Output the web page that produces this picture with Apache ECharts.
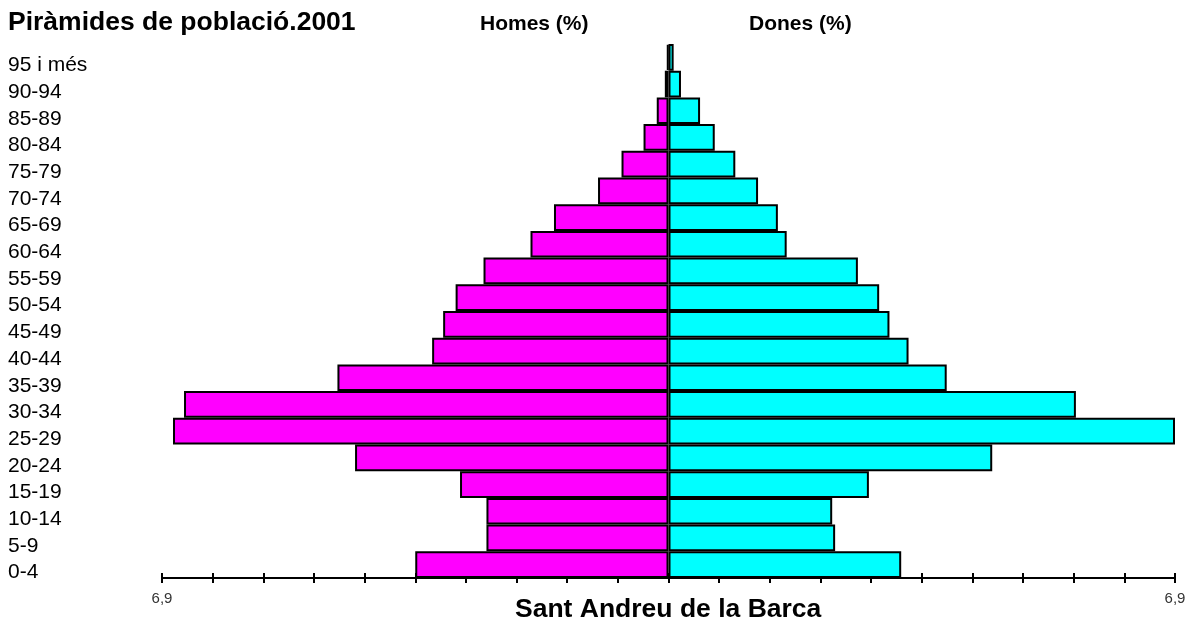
<!DOCTYPE html>
<html>
<head>
<meta charset="utf-8">
<script src="https://cdn.jsdelivr.net/npm/echarts@6/dist/echarts.min.js"></script>
<style>
  html, body { margin: 0; padding: 0; background: #fff; }
  #main { width: 1191px; height: 624px; }
</style>
</head>
<body>
<div id="main"></div>
<script>
const ages = ['0-4', '5-9', '10-14', '15-19', '20-24', '25-29', '30-34', '35-39', '40-44', '45-49',
  '50-54', '55-59', '60-64', '65-69', '70-74', '75-79', '80-84', '85-89', '90-94', '95 i més'];
const homes = [3.45, 2.48, 2.48, 2.84, 4.27, 6.75, 6.60, 4.51, 3.22, 3.07,
  2.90, 2.52, 1.88, 1.56, 0.96, 0.64, 0.34, 0.16, 0.05, 0.02];
const dones = [3.17, 2.27, 2.23, 2.73, 4.41, 6.90, 5.55, 3.79, 3.27, 3.01,
  2.87, 2.58, 1.61, 1.49, 1.22, 0.91, 0.63, 0.43, 0.17, 0.07];
const axisMax = 6.9;

const myChart = echarts.init(document.getElementById('main'));

const font = 'Liberation Sans, Arial, sans-serif';
const barBorder = { borderColor: '#000', borderWidth: 2 };

const option = {
  backgroundColor: '#fff',
  animation: false,
  textStyle: { fontFamily: font },
  title: [
    {
      text: 'Piràmides de població.2001',
      left: 3, top: 4,
      textStyle: { fontSize: 26.5, fontWeight: 'bold', color: '#000', fontFamily: font }
    },
    {
      text: 'Homes (%)',
      left: 475, top: 9,
      textStyle: { fontSize: 21, fontWeight: 'bold', color: '#000', fontFamily: font }
    },
    {
      text: 'Dones (%)',
      left: 744, top: 9,
      textStyle: { fontSize: 21, fontWeight: 'bold', color: '#000', fontFamily: font }
    },
    {
      text: 'Sant Andreu de la Barca',
      left: 510, top: 591,
      textStyle: { fontSize: 26.5, fontWeight: 'bold', color: '#000', fontFamily: font }
    }
  ],
  grid: { left: 162, right: 16, top: 44, bottom: 46 },
  xAxis: [
    {
      type: 'value',
      min: -axisMax, max: axisMax, interval: 0.69,
      splitLine: { show: false },
      axisLine: { show: true, lineStyle: { color: '#000', width: 2 } },
      axisTick: { show: true, length: 5, lineStyle: { color: '#000', width: 2 } },
      axisLabel: {
        fontSize: 15, color: '#333', margin: 13, fontFamily: font,
        formatter: v => Math.abs(v) > axisMax - 0.1 ? String(axisMax).replace('.', ',') : ''
      }
    },
    {
      type: 'value',
      position: 'bottom',
      min: -axisMax, max: axisMax, interval: 0.69,
      splitLine: { show: false },
      axisLine: { show: false },
      axisTick: { show: true, inside: true, length: 5, lineStyle: { color: '#000', width: 2 } },
      axisLabel: { show: false }
    }
  ],
  yAxis: {
    type: 'category',
    data: ages,
    axisLine: { show: false },
    axisTick: { show: false },
    splitLine: { show: false },
    axisLabel: {
      interval: 0, align: 'left', verticalAlign: 'top', lineHeight: 16,
      margin: 154, fontSize: 21, color: '#000', fontFamily: font
    }
  },
  series: [
    {
      name: 'Homes',
      type: 'bar',
      data: homes.map(v => -v),
      barCategoryGap: 0,
      barGap: '-100%',
      itemStyle: Object.assign({ color: '#ff00ff' }, barBorder)
    },
    {
      name: 'Dones',
      type: 'bar',
      data: dones,
      barCategoryGap: 0,
      barGap: '-100%',
      itemStyle: Object.assign({ color: '#00ffff' }, barBorder)
    }
  ]
};

myChart.setOption(option);
</script>
</body>
</html>
